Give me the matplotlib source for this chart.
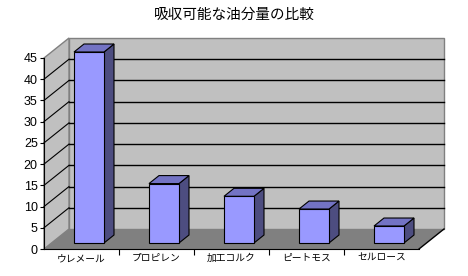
import matplotlib.pyplot as plt
from matplotlib.patches import Polygon

plt.rcParams['font.family'] = ['Noto Sans CJK JP', 'DejaVu Sans']

# data
categories = ['ウレメール', 'プロピレン', '加工コルク', 'ピートモス', 'セルロース']
values = [45, 14, 11, 8, 4]
y_ticks = [0, 5, 10, 15, 20, 25, 30, 35, 40, 45]
title = '吸収可能な油分量の比較'

# oblique depth of the 3d box (in data units)
DX = 25 / 75
DY = 20 / (191 / 45)
bar_w = 0.4
f_front, f_back = 0.3, 0.7

wall = '#c0c0c0'
floor = '#808080'
c_front = '#9999ff'
c_top = '#7373c4'
c_side = '#4d4d80'

fig = plt.figure(figsize=(4.68, 2.76), dpi=100)
ax = fig.add_axes([44 / 468, 27 / 276, 375 / 468, 191 / 276])
ax.set_xlim(0, len(categories))
ax.set_ylim(0, 45)
ax.patch.set_visible(False)

n = len(categories)
top = y_ticks[-1]

# back wall
ax.add_patch(Polygon([(DX, DY), (n + DX, DY), (n + DX, top + DY), (DX, top + DY)],
                     closed=True, fc=wall, ec='#808080', lw=1, clip_on=False, zorder=0))
# side wall
ax.add_patch(Polygon([(0, 0), (DX, DY), (DX, top + DY), (0, top)],
                     closed=True, fc=wall, ec='#808080', lw=1, clip_on=False, zorder=0))
# floor
ax.add_patch(Polygon([(0, 0), (n, 0), (n + DX, DY), (DX, DY)],
                     closed=True, fc=floor, ec='none', clip_on=False, zorder=1))
ax.plot([n, n + DX], [0, DY], color='black', lw=1, clip_on=False, zorder=2)

# grid lines
for v in y_ticks[1:-1]:
    ax.plot([DX, n + DX], [v + DY, v + DY], color='black', lw=1, clip_on=False, zorder=1)
    ax.plot([0, DX], [v, v + DY], color='black', lw=0.8, clip_on=False, zorder=1)

# bars
for i, v in enumerate(values):
    x0 = i + 0.5 - bar_w / 2 + f_front * DX
    y0 = f_front * DY
    ddx = (f_back - f_front) * DX
    ddy = (f_back - f_front) * DY
    x1 = x0 + bar_w
    kw = dict(closed=True, ec='black', lw=0.8, clip_on=False, zorder=3, joinstyle='miter')
    ax.add_patch(Polygon([(x1, y0), (x1 + ddx, y0 + ddy), (x1 + ddx, y0 + v + ddy), (x1, y0 + v)],
                         fc=c_side, **kw))
    ax.add_patch(Polygon([(x0, y0 + v), (x1, y0 + v), (x1 + ddx, y0 + v + ddy), (x0 + ddx, y0 + v + ddy)],
                         fc=c_top, **kw))
    ax.add_patch(Polygon([(x0, y0), (x1, y0), (x1, y0 + v), (x0, y0 + v)],
                         fc=c_front, **kw))

# axes
for s in ['top', 'right']:
    ax.spines[s].set_visible(False)
ax.spines['left'].set_color('black')
ax.spines['bottom'].set_color('black')
ax.spines['left'].set_zorder(4)
ax.spines['bottom'].set_zorder(4)
ax.set_yticks(y_ticks)
ax.set_yticklabels([str(t) for t in y_ticks], family=['Liberation Sans'], fontsize=9)
ax.tick_params(axis='y', length=3, width=0.8, pad=1.5)
ax.set_xticks(range(1, n))
ax.set_xticklabels([])
ax.tick_params(axis='x', which='major', length=4, width=0.8)
ax.set_xticks([i + 0.5 for i in range(n)], minor=True)
ax.set_xticklabels(categories, minor=True, fontsize=7)
ax.tick_params(axis='x', which='minor', length=0, pad=3)

fig.text(0.5, 1 - 15 / 276, title, ha='center', va='center', fontsize=10.5)

fig.savefig('out.png', dpi=100)
